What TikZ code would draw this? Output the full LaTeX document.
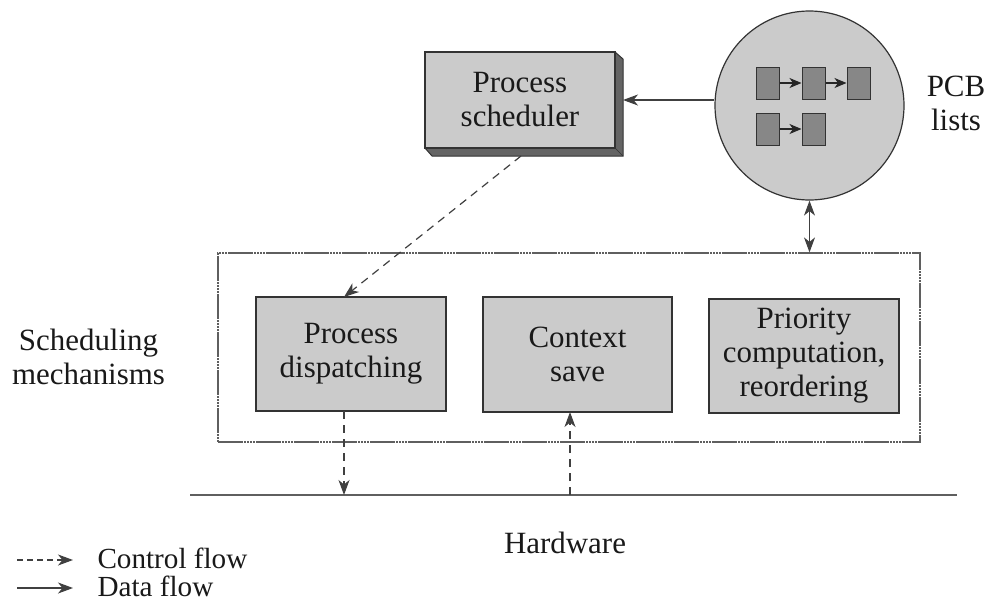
\documentclass[tikz,border=0pt]{standalone}
\usepackage{fontspec}
\setmainfont{Liberation Serif}
\newfontfamily\figserif[Scale=1.19]{Liberation Serif}
\usetikzlibrary{arrows.meta}
\definecolor{boxgray}{RGB}{203,203,203}
\definecolor{sidegray}{RGB}{100,100,100}
\definecolor{pcbgray}{RGB}{135,135,135}
\definecolor{linegray}{RGB}{95,95,95}
\tikzset{
  x=1pt, y=-1pt,
  every node/.style={font=\figserif\fontsize{26}{34}\selectfont, text=black!90},
  legendtext/.style={font=\figserif\fontsize{24.5}{30}\selectfont, anchor=base west, inner ysep=1pt},
  tip/.style={-{Stealth[length=15pt,width=11pt,inset=4.5pt]}},
  graybox/.style={draw=black!80, line width=1.3pt, fill=boxgray, align=center, inner sep=0pt},
  pcbbox/.style={draw=black!80, line width=1pt, fill=pcbgray, minimum width=23pt, minimum height=32pt, inner sep=0pt},
  pcblink/.style={-{Stealth[length=12pt,width=10pt,inset=3.5pt]}, line width=1.1pt, black!85},
  dataflow/.style={tip, line width=1.2pt, draw=black!75},
  ctrlflow/.style={tip, line width=1.2pt, draw=black!75, dash pattern=on 8pt off 6pt},
  region/.style={draw=linegray, line width=1.2pt,
    dash pattern=on 25pt off 1pt on 2pt off 1pt on 2pt off 1pt on 2pt off 1pt on 2pt off 1pt},
}
\begin{document}
\begin{tikzpicture}
\useasboundingbox (0,0) rectangle (989,603);

% process scheduler, drawn as a raised block
\fill[sidegray] (615,52) -- (623,59) -- (623,156) -- (432,156) -- (425,148) -- (615,148) -- cycle;
\draw[black!80, line width=1pt] (615,52) -- (623,59) -- (623,156) -- (432,156) -- (425,148);
\draw[black!80, line width=0.6pt] (615,148) -- (623,156);
\node[graybox, minimum width=190pt, minimum height=96pt] (sched) at (520,100) {Process\\scheduler};
\coordinate (schedside) at (623,100);

% PCB lists
\node[circle, draw=black!80, line width=1.2pt, fill=boxgray, minimum size=189pt, inner sep=0pt] (pcb) at (809.5,105.5) {};
\node[pcbbox] (p1) at (767.5,83) {};
\node[pcbbox] (p2) at (813.5,83) {};
\node[pcbbox] (p3) at (858.5,83) {};
\node[pcbbox] (p4) at (767.5,129) {};
\node[pcbbox] (p5) at (813.5,129) {};
\draw[pcblink] (p1) -- (p2);
\draw[pcblink] (p2) -- (p3);
\draw[pcblink] (p4) -- (p5);
\node[align=center] (pcblabel) at (956,103) {PCB\\lists};

% scheduling mechanisms region
\node[region, minimum width=702pt, minimum height=189pt, inner sep=0pt] (mech) at (569,347.5) {};
\node[graybox, minimum width=190pt, minimum height=114pt] (disp) at (351,354) {Process\\dispatching};
\node[graybox, minimum width=189pt, minimum height=115pt] (ctx) at (577.5,354.5) {Context\\save};
\node[graybox, minimum width=190pt, minimum height=114pt] (prio) at (804,356) {Priority\\computation,\\reordering};
\node[align=center] (mechlabel) at (88.5,357) {Scheduling\\mechanisms};

% hardware
\coordinate (hwL) at (190,495);
\coordinate (hwR) at (957,495);
\draw[linegray, line width=1.6pt] (hwL) -- (hwR);
\node[anchor=base] (hw) at (565,553) {Hardware};

% flows
\draw[dataflow] (pcb.west |- schedside) -- (schedside);
\draw[dataflow, {Stealth[length=15pt,width=11pt,inset=4.5pt]}-{Stealth[length=15pt,width=11pt,inset=4.5pt]}]
  (pcb.south) -- (pcb.south |- mech.north);
\coordinate (schedout) at (521,156);
\coordinate (dispin) at (344,297);
\draw[ctrlflow] (schedout) -- (dispin);
\coordinate (dispout) at (344,411);
\draw[ctrlflow] (dispout) -- (dispout |- hwL);
\coordinate (ctxin) at (570,412);
\draw[ctrlflow] (ctxin |- hwL) -- (ctxin);

% legend
\coordinate (lc) at (17,560);
\coordinate (ld) at (17,588);
\draw[ctrlflow, dash pattern=on 6pt off 4pt] (lc) -- ++(56,0);
\draw[dataflow] (ld) -- ++(56,0);
\node[legendtext] (lctext) at (94,568) {Control flow};
\node[legendtext] (ldtext) at (94,596) {Data flow};
\end{tikzpicture}
\end{document}
